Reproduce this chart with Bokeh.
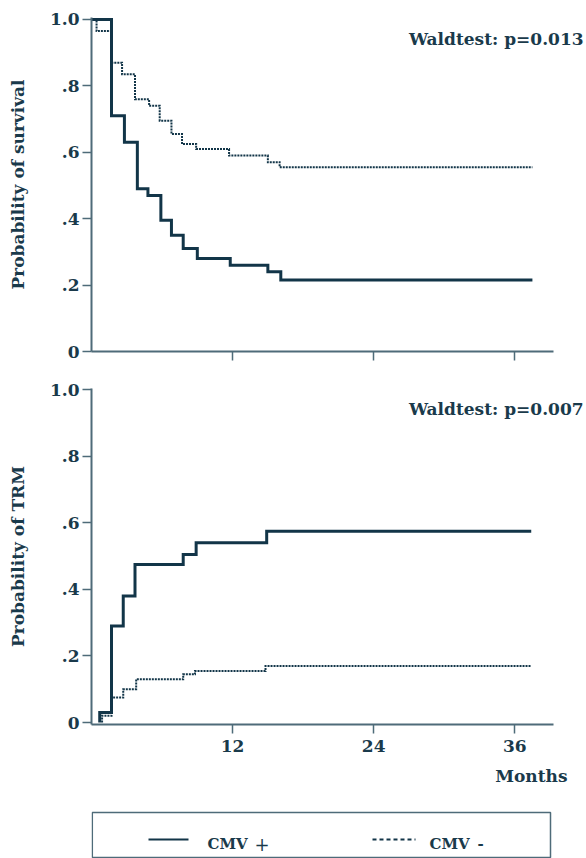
from bokeh.plotting import figure
from bokeh.layouts import column
from bokeh.models import Range1d, FixedTicker, Label, Title
from bokeh.core.properties import value
from bokeh.embed import file_html
from bokeh.resources import INLINE

# ---------------- data ----------------
x_ticks = [12, 24, 36]
y_ticks = [0, 0.2, 0.4, 0.6, 0.8, 1.0]
y_tick_labels = ["0", ".2", ".4", ".6", ".8", "1.0"]

# Survival (Kaplan-Meier), months vs probability
surv_pos_t = [0, 1.7, 2.8, 3.9, 4.8, 5.9, 6.8, 7.8, 9.0, 11.8, 15.0, 16.1, 37.5]
surv_pos_p = [1.0, 0.71, 0.63, 0.49, 0.47, 0.395, 0.35, 0.31, 0.28, 0.26, 0.24, 0.215, 0.215]
surv_neg_t = [0, 0.43, 1.7, 2.6, 3.7, 4.9, 5.8, 6.8, 7.7, 8.9, 11.7, 15.0, 16.0, 37.5]
surv_neg_p = [1.0, 0.965, 0.87, 0.835, 0.76, 0.74, 0.695, 0.655, 0.625, 0.61, 0.59, 0.57, 0.555, 0.555]

# Transplant related mortality (cumulative incidence)
trm_pos_t = [0.7, 0.7, 1.7, 2.7, 3.7, 7.8, 8.9, 14.9, 37.4]
trm_pos_p = [0, 0.03, 0.29, 0.38, 0.475, 0.505, 0.54, 0.575, 0.575]
trm_neg_t = [0.9, 0.9, 1.7, 2.7, 3.8, 7.8, 8.8, 14.8, 37.4]
trm_neg_p = [0, 0.02, 0.075, 0.10, 0.13, 0.145, 0.155, 0.17, 0.17]

pvalues = ["Waldtest: p=0.013", "Waldtest: p=0.007"]
y_titles = ["Probability of survival", "Probability of TRM"]
x_title = "Months"
legend_names = ["CMV", "CMV"]
legend_signs = ["+", "-"]

# ---------------- style ----------------
FONT = "DejaVu Serif"
TEXT = "#1a3a4b"
LINE = "#123548"
AXIS = "#4e6b79"
W = 586
LEFT = 91
X_AXIS_END = 39.3
X_VIEW_END = 42.1   # frame reaches the right edge; the axis line is limited by bounds


def panel(height, b_top, b_bottom, yr, ylabel, show_xlabels):
    p = figure(width=W, height=height, output_backend="svg", toolbar_location=None,
               x_range=Range1d(0, X_VIEW_END), y_range=Range1d(*yr),
               min_border_left=LEFT, min_border_right=0,
               min_border_top=b_top, min_border_bottom=b_bottom,
               outline_line_color=None, background_fill_color="white")
    p.grid.visible = False
    ya = p.yaxis[0]
    ya.ticker = FixedTicker(ticks=y_ticks)
    ya.major_label_overrides = {t: s for t, s in zip(y_ticks, y_tick_labels)}
    ya.minor_tick_line_color = None
    ya.major_tick_in = 0
    ya.major_tick_out = 9
    ya.major_label_standoff = 3
    ya.axis_line_color = AXIS
    ya.axis_line_width = 2
    ya.major_tick_line_color = AXIS
    ya.major_tick_line_width = 1.5
    ya.major_label_text_font = FONT
    ya.major_label_text_font_style = "bold"
    ya.major_label_text_font_size = "17px"
    ya.major_label_text_color = TEXT
    ya.axis_label = ylabel
    ya.axis_label_text_font = FONT
    ya.axis_label_text_font_style = "bold"
    ya.axis_label_text_font_size = "17px"
    ya.axis_label_text_color = TEXT
    ya.axis_label_standoff = 19

    xa = p.xaxis[0]
    xa.ticker = FixedTicker(ticks=x_ticks)
    xa.bounds = (0, X_AXIS_END)
    xa.minor_tick_line_color = None
    xa.major_tick_in = 0
    xa.major_tick_out = 9
    xa.axis_line_color = AXIS
    xa.axis_line_width = 2
    xa.major_tick_line_color = AXIS
    xa.major_tick_line_width = 1.5
    xa.major_label_standoff = 6
    xa.major_label_text_font = FONT
    xa.major_label_text_font_style = "bold"
    xa.major_label_text_font_size = "17px" if show_xlabels else "1px"
    xa.major_label_text_color = TEXT if show_xlabels else "white"
    return p


def curves(p, t1, p1, t2, p2):
    p.step(t1, p1, mode="after", line_width=3, line_color=LINE, line_join="miter")
    p.step(t2, p2, mode="after", line_width=2, line_color=LINE, line_dash="2 1",
           line_join="miter")


def ptext(p, txt, x, y):
    p.add_layout(Label(x=x, y=y, text=txt, text_align="right", text_baseline="alphabetic",
                       text_font=FONT, text_font_style="bold", text_font_size="17px",
                       text_color=TEXT))


# top panel: survival
top = panel(370, 17, 19, (0, 1.006), y_titles[0], False)
curves(top, surv_pos_t, surv_pos_p, surv_neg_t, surv_neg_p)
ptext(top, pvalues[0], 41.85, 0.94)

# bottom panel: TRM
bot = panel(425, 18, 71, (-0.006, 1.004), y_titles[1], True)
curves(bot, trm_pos_t, trm_pos_p, trm_neg_t, trm_neg_p)
ptext(bot, pvalues[1], 41.85, 0.941)
bot.add_layout(Title(text=x_title, align="right", offset=19, standoff=18,
                     text_font=FONT, text_font_style="bold", text_font_size="17px",
                     text_color=TEXT), "below")

# legend strip: same frame borders as the panels (layouts align frames);
# x in page pixels, y in pixels up from the page bottom
leg = figure(width=W, height=63, output_backend="svg", toolbar_location=None,
             x_range=Range1d(LEFT, W), y_range=Range1d(0, 63),
             min_border_left=LEFT, min_border_right=0, min_border_top=0, min_border_bottom=0,
             x_axis_type=None, y_axis_type=None, outline_line_color=None)
leg.grid.visible = False
leg.quad(left=[91.8], right=[550], bottom=[1], top=[46], fill_color=None,
         line_color=AXIS, line_width=1.5)
leg.line([148, 188], [19, 19], line_color=LINE, line_width=2)
leg.line([372, 415], [19, 19], line_color=LINE, line_width=2, line_dash="4 3")
leg.text(x=[207, 429], y=[15, 15], text=legend_names, text_font=value(FONT),
         text_font_style="bold", text_font_size="15px", text_color=TEXT,
         text_baseline="alphabetic")
leg.text(x=[254], y=[15], text=[legend_signs[0]], text_font=value(FONT),
         text_font_size="18px", text_color=TEXT, text_baseline="alphabetic")
leg.text(x=[477], y=[15], text=[legend_signs[1]], text_font=value(FONT),
         text_font_style="bold", text_font_size="15px", text_color=TEXT,
         text_baseline="alphabetic")

layout = column(top, bot, leg, spacing=0)
open("out.html", "w").write(file_html(layout, INLINE))
